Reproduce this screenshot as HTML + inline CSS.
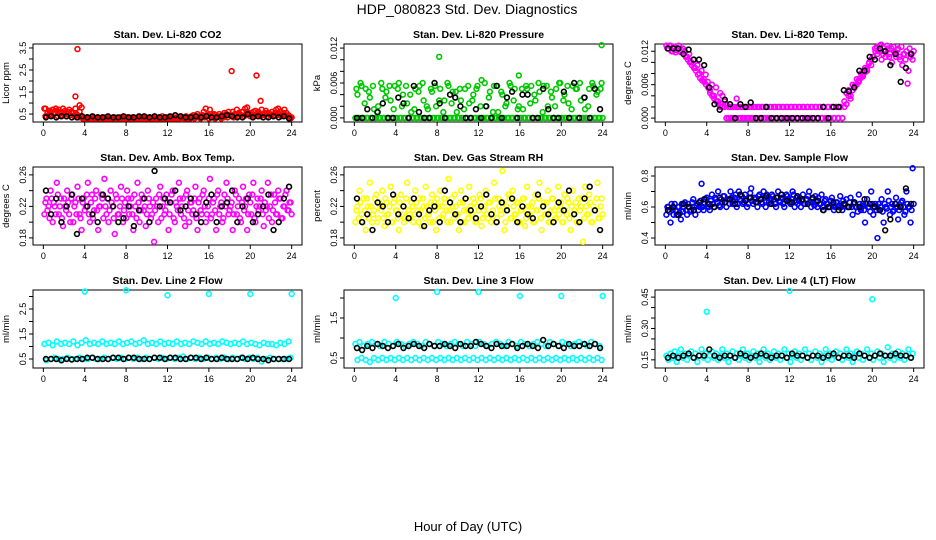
<!DOCTYPE html>
<html><head><meta charset="utf-8">
<style>
body{margin:0;background:#fff;}
svg{display:block;font-family:"Liberation Sans",sans-serif;}
</style></head>
<body>
<svg id="chart" width="936" height="540" viewBox="0 0 936 540">
<text x="467" y="14" text-anchor="middle" font-size="14">HDP_080823  Std. Dev. Diagnostics</text>
<text x="468" y="531" text-anchor="middle" font-size="13">Hour of Day (UTC)</text>
</svg>
<script>
// ---- data (colored = all readings, black = subset) ----
const xTicks = [0,4,8,12,16,20,24];
const co2Red = [.75,.4,.45,.6,.7,.55,.65,.7,.6,.75,.65,.5,.7,.6,.55,.75,.45,.6,.4,.35,.3,.35,.3,.35,.3,.3,.35,.3,.35,.3,.3,.35,.3,.3,.35,.3,.3,.35,.3,.3,.35,.3,.3,.35,.3,.3,.35,.3,.3,.35,.3,.35,.3,.3,.35,.3,.3,.4,.3,.35,.3,.35,.3,.3,.35,.3,.4,.35,.3,.35,.35,.4,.45,.35,.5,.4,.35,.6,.75,.45,.7,.4,.5,.35,.4,.35,.45,.55,.5,.6,.45,.6,.5,.7,.55,.45,.6,.75,.8,.5,.55,.6,.65,.5,.45,.7,.5,.65,.55,.5,.6,.45,.7,.75,.6,.5,.7,.55,.45,.3];
const co2Red2 = [.4,.55,.65,.45,.5,.75,.4,.55,.45,.5,.4,.6,.45,.55,.4,.5,.35,.4,.3,.3,.35,.3,.3,.35,.3,.35,.3,.3,.3,.35,.3,.3,.3,.35,.3,.3,.3,.3,.35,.3,.3,.3,.35,.3,.3,.3,.3,.35,.3,.3,.3,.3,.35,.3,.3,.35,.3,.3,.3,.3,.3,.3,.35,.3,.3,.3,.35,.3,.4,.3,.3,.35,.3,.4,.35,.3,.45,.35,.4,.3,.35,.45,.3,.4,.5,.3,.35,.4,.35,.45,.4,.35,.45,.4,.5,.6,.4,.45,.55,.4,.45,.4,.5,.6,.4,.45,.55,.4,.5,.45,.4,.55,.45,.5,.4,.55,.45,.4,.35,.35];
const co2RedOutT = [0.2,3.1,3.3,3.5,3.7,18.2,20.6,21.0];
const co2RedOutV = [0.75,1.3,3.45,0.9,0.8,2.45,2.25,1.1];
const co2Black = [.35,.4,.35,.4,.4,.35,.35,.4,.35,.4,.35,.35,.4,.35,.35,.4,.35,.35,.4,.4,.35,.4,.35,.35,.4,.45,.4,.35,.35,.4,.35,.4,.35,.35,.4,.45,.4,.35,.35,.5,.35,.4,.35,.35,.4,.35,.4,.3];
const presGreen = [0,.004,0,.0055,0,.005,0,.0035,0,.0015,0,.002,0,.005,0,.0045,0,.003,0,.0055,0,.006,0,.004,0,.0025,0,.001,0,.005,0,.0055,0,.003,0,.0015,0,.0045,0,.002,0,.005,0,.003,0,.0055,0,.0045,0,.001,0,.003,0,.005,0,.0025,0,.004,0,.0055,0,.0065,0,.002,0,.0045,0,.0055,0,.001,0,.004,0,.0025,0,.0055,0,.005,0,.002,0,.0015,0,.005,0,.0055,0,.003,0,.0045,0,.0055,0,.002,0,.0035,0,.005,0,.006,0,.004,0,.0025,0,.0055,0,.005,0,.003,0,.0015,0,.005,0,.0055,0,.0045,0,.006];
const presGreen2 = [.005,0,.006,0,.0025,0,.0045,0,.0055,0,.001,0,.006,0,.0035,0,.0055,0,.0015,0,.005,0,.002,0,.0055,0,.004,0,.0015,0,.0045,0,.006,0,.002,0,.005,0,.0055,0,.003,0,.001,0,.006,0,.0025,0,.0045,0,.005,0,.0015,0,.0055,0,.003,0,.005,0,.002,0,.006,0,.0035,0,.001,0,.0055,0,.0045,0,.002,0,.006,0,.003,0,.0015,0,.005,0,.0055,0,.0025,0,.004,0,.006,0,.001,0,.0055,0,.0045,0,.002,0,.006,0,.003,0,.0055,0,.0015,0,.005,0,.006,0,.0035,0,.002,0,.006,0,.004,0,.005,0];
const presOutT = [8.2,15.9,23.9];
const presOutV = [.0105,.0073,.0125];
const presBlack = [0,0,.0015,0,.001,.0025,0,0,.0035,.0025,0,.0055,.001,0,0,.006,.0025,0,.004,.0035,.002,0,0,.0015,0,.002,0,.0055,0,.0035,.0045,0,.004,.004,0,0,.005,.0015,0,0,.0045,0,.006,0,.0035,0,.005,.0015];
const tempMag = [.013,.0125,.013,.012,.0128,.0122,.013,.0118,.0125,.012,.011,.0115,.01,.0105,.009,.0095,.008,.0085,.007,.0078,.0065,.005,.006,.004,.0055,.003,.0045,.002,.003,0,.002,0,.002,0,.002,0,.002,0,.002,0,.002,0,.002,0,.002,0,.002,0,.002,0,.002,0,.002,0,.002,0,.002,0,.002,0,.002,0,.002,0,.002,0,.002,0,.002,0,.002,0,.002,0,.002,0,.002,0,.002,0,.002,0,.002,0,.002,0,.003,.0045,.005,.0035,.006,.0055,.007,.0065,.008,.0075,.009,.0085,.01,.0095,.011,.012,.0115,.013,.0105,.012,.011,.0125,.0115,.01,.012,.011,.0125,.0105,.0095,.0115,.012,.0085,.011,.0105];
const tempMag2 = [.0125,.013,.012,.0128,.0118,.0125,.012,.0122,.0115,.011,.0105,.01,.0095,.009,.0085,.0078,.0072,.0068,.0065,.006,.0055,.0045,.004,.0035,.003,.0025,.002,.004,.002,.0025,0,.002,0,.002,.0035,.002,0,.002,0,.002,0,.002,0,.002,0,.002,0,.002,0,.002,0,.002,0,.002,0,.002,0,.002,0,.002,0,.002,0,.002,0,.002,0,.002,0,.002,0,.002,0,.002,0,.002,0,.002,0,.002,0,.002,0,.002,0,.002,0,.002,.0025,.004,.004,.005,.0058,.006,.0068,.0072,.0078,.0082,.0088,.0098,.0105,.011,.0125,.0128,.012,.0132,.0115,.012,.013,.011,.0125,.0128,.0118,.0122,.011,.0128,.0115,.0105,.0062,.0125,.0115,.012];
const tempBlack = [.0125,.0125,.0125,.0115,.0123,.0105,.0105,.0095,.0055,.0025,.0015,.0033,.0025,0,.0025,.002,.0028,0,0,.002,0,0,0,0,0,0,0,0,0,0,.002,0,.002,.002,.005,.0048,.0055,.0085,.0085,.011,.0105,.0125,.012,.0095,.0115,.0065,.009,.0115];
const ambMag = [.21,.23,.22,.24,.2,.22,.25,.21,.23,.195,.22,.24,.21,.23,.2,.225,.245,.21,.19,.23,.22,.25,.2,.235,.215,.24,.19,.22,.23,.255,.21,.2,.24,.22,.185,.23,.21,.245,.2,.225,.24,.21,.23,.19,.22,.25,.2,.235,.215,.195,.24,.22,.21,.175,.23,.2,.245,.22,.21,.235,.19,.225,.24,.2,.22,.25,.21,.23,.195,.24,.2,.225,.215,.245,.19,.23,.21,.24,.2,.22,.255,.21,.23,.19,.24,.22,.2,.235,.25,.21,.22,.19,.24,.21,.23,.2,.245,.22,.19,.235,.21,.25,.2,.23,.22,.24,.195,.215,.25,.22,.2,.235,.21,.24,.23,.205,.22,.24,.215,.225];
const ambMag2 = [.225,.215,.205,.23,.225,.21,.235,.22,.205,.23,.215,.225,.2,.235,.22,.21,.23,.205,.225,.215,.235,.21,.225,.205,.23,.215,.22,.235,.205,.22,.23,.215,.225,.205,.235,.21,.22,.23,.215,.205,.23,.22,.21,.235,.205,.225,.215,.23,.22,.21,.23,.205,.225,.215,.22,.235,.205,.23,.215,.225,.21,.235,.205,.225,.215,.23,.22,.205,.235,.215,.225,.21,.23,.205,.225,.215,.235,.22,.21,.23,.205,.225,.215,.235,.21,.225,.205,.22,.23,.215,.225,.21,.235,.22,.205,.225,.215,.23,.21,.225,.235,.205,.22,.215,.23,.21,.225,.22,.205,.235,.215,.225,.21,.23,.205,.22,.235,.215,.225,.21];
const ambBlack = [.24,.21,.23,.2,.22,.235,.185,.23,.22,.21,.2,.235,.23,.22,.2,.205,.22,.195,.215,.23,.2,.265,.22,.23,.225,.24,.215,.22,.23,.21,.2,.225,.235,.2,.22,.225,.24,.2,.22,.23,.2,.21,.22,.235,.19,.2,.23,.245];
const rhYel = [.2,.22,.24,.21,.23,.19,.22,.25,.2,.215,.235,.205,.22,.24,.195,.225,.21,.245,.2,.23,.215,.19,.235,.22,.205,.25,.21,.225,.2,.24,.215,.23,.195,.22,.245,.21,.2,.235,.225,.19,.22,.24,.205,.23,.215,.255,.2,.22,.235,.21,.19,.24,.225,.2,.215,.245,.21,.23,.2,.22,.235,.195,.215,.24,.205,.225,.21,.25,.2,.23,.215,.265,.19,.22,.235,.205,.24,.21,.225,.2,.215,.23,.195,.245,.21,.22,.2,.235,.215,.25,.19,.225,.21,.24,.2,.23,.215,.205,.245,.22,.2,.235,.21,.225,.19,.24,.215,.2,.23,.22,.175,.245,.21,.235,.2,.22,.215,.25,.205,.23];
const rhYel2 = [.215,.205,.225,.2,.215,.23,.205,.22,.21,.23,.2,.225,.215,.205,.23,.21,.22,.2,.225,.215,.205,.225,.21,.2,.23,.215,.205,.22,.21,.225,.2,.215,.23,.205,.22,.21,.225,.2,.215,.23,.205,.22,.21,.225,.2,.215,.23,.205,.22,.21,.225,.2,.215,.23,.205,.22,.21,.225,.2,.215,.23,.205,.22,.21,.225,.2,.215,.23,.205,.22,.21,.225,.2,.215,.23,.205,.22,.21,.225,.2,.215,.23,.205,.22,.21,.225,.2,.215,.23,.205,.22,.21,.225,.2,.215,.23,.205,.22,.21,.225,.2,.215,.23,.205,.22,.21,.225,.2,.215,.23,.205,.22,.21,.225,.2,.215,.23,.205,.22,.21];
const rhBlack = [.23,.2,.21,.19,.225,.22,.2,.235,.21,.22,.205,.23,.21,.195,.215,.22,.2,.24,.225,.21,.2,.23,.215,.205,.22,.235,.21,.2,.225,.215,.23,.2,.22,.21,.205,.235,.22,.21,.2,.225,.215,.24,.21,.2,.23,.245,.215,.19];
const flowBlue = [.55,.6,.5,.58,.62,.55,.6,.52,.57,.63,.55,.6,.58,.65,.55,.62,.6,.75,.58,.65,.62,.58,.68,.6,.65,.7,.6,.63,.67,.6,.65,.7,.62,.66,.6,.7,.64,.62,.68,.6,.66,.72,.62,.65,.6,.68,.63,.7,.6,.66,.62,.68,.65,.6,.7,.63,.66,.6,.68,.65,.62,.7,.6,.66,.64,.6,.68,.62,.65,.7,.6,.63,.67,.6,.62,.68,.58,.65,.62,.6,.66,.58,.63,.6,.67,.58,.62,.65,.6,.66,.55,.63,.6,.68,.58,.62,.5,.65,.6,.7,.55,.62,.4,.58,.65,.5,.6,.7,.55,.62,.58,.66,.52,.6,.64,.55,.7,.6,.5,.85];
const flowBlue2 = [.6,.57,.62,.55,.58,.6,.56,.62,.6,.58,.62,.57,.63,.6,.61,.58,.64,.6,.62,.66,.6,.64,.62,.66,.63,.61,.65,.67,.63,.65,.62,.66,.64,.68,.62,.65,.67,.63,.65,.62,.69,.64,.66,.63,.67,.65,.62,.66,.68,.63,.65,.67,.62,.66,.64,.68,.62,.65,.67,.63,.65,.68,.63,.62,.66,.64,.62,.65,.67,.63,.65,.61,.64,.66,.62,.6,.64,.62,.6,.64,.62,.6,.63,.61,.6,.64,.62,.6,.63,.6,.62,.6,.57,.62,.6,.58,.62,.6,.57,.62,.6,.58,.62,.6,.57,.62,.59,.64,.6,.57,.62,.6,.58,.63,.6,.57,.62,.6,.58,.62];
const flowBlack = [.58,.6,.55,.62,.6,.58,.63,.65,.62,.6,.66,.63,.65,.62,.68,.64,.66,.63,.65,.67,.62,.66,.68,.64,.63,.67,.65,.62,.66,.64,.58,.6,.63,.58,.62,.6,.63,.6,.65,.62,.6,.58,.45,.52,.62,.6,.72,.62];
const l2Cyan = [1.1,.45,1.15,.5,1.05,.55,1.2,.5,1.1,.5,1.15,.55,1.1,.5,1.2,.5,1.05,.55,1.15,.5,1.25,.5,1.1,.55,1.15,.5,1.1,.5,1.2,.55,1.1,.5,1.15,.55,1.1,.5,1.2,.55,1.1,.5,1.15,.55,1.2,.5,1.1,.55,1.15,.5,1.25,.55,1.1,.5,1.15,.55,1.1,.5,1.2,.55,1.1,.5,1.15,.55,1.1,.5,1.2,.55,1.1,.6,1.15,.5,1.1,.55,1.2,.5,1.15,.55,1.1,.5,1.2,.55,1.1,.5,1.15,.55,1.1,.5,1.2,.55,1.15,.5,1.1,.55,1.15,.5,1.1,.55,1.2,.5,1.1,.55,1.15,.5,1.1,.55,1.05,.4,1.15,.5,1.1,.55,1.1,.5,1.05,.5,1.15,.5,1.1,.5,1.2,.55];
const l2OutT = [4,8,12,16,20,24];
const l2OutV = [3.2,3.25,3.05,3.1,3.1,3.1];
const l2Black = [.5,.5,.5,.45,.5,.48,.5,.5,.55,.55,.5,.5,.5,.55,.55,.5,.55,.55,.5,.5,.5,.55,.55,.5,.55,.55,.5,.5,.55,.55,.5,.55,.5,.5,.55,.5,.5,.5,.55,.5,.55,.5,.5,.45,.5,.5,.5,.5];
const l3Cyan = [.85,.45,.9,.5,.8,.45,.85,.4,.9,.5,.85,.45,.8,.5,.9,.45,.85,.5,.8,.45,.9,.5,.85,.45,.8,.5,.85,.45,.9,.5,.85,.45,.8,.5,.9,.45,.85,.5,.8,.45,.9,.5,.85,.45,.8,.5,.85,.45,.9,.5,.85,.45,.8,.5,.9,.45,.85,.5,.8,.45,.9,.5,.85,.45,.8,.5,.85,.45,.9,.5,.85,.45,.8,.5,.9,.45,.85,.5,.8,.45,.9,.5,.85,.45,.8,.5,.85,.45,.9,.5,.85,.45,.8,.5,.9,.45,.85,.5,.8,.45,.9,.5,.85,.45,.8,.5,.85,.45,.9,.5,.85,.45,.8,.5,.9,.45,.85,.5,.8,.45];
const l3OutT = [4,8,12,16,20,24];
const l3OutV = [2.0,2.15,2.15,2.05,2.05,2.05];
const l3Black = [.75,.7,.8,.75,.85,.8,.75,.8,.85,.75,.8,.85,.8,.75,.85,.8,.8,.85,.8,.75,.85,.8,.8,.9,.85,.8,.75,.85,.8,.8,.85,.75,.8,.85,.8,.75,.95,.8,.85,.8,.75,.85,.8,.8,.85,.8,.85,.75];
const l4Cyan = [.17,.15,.18,.16,.19,.14,.17,.2,.16,.18,.15,.17,.19,.16,.18,.14,.17,.2,.16,.18,.15,.17,.19,.16,.18,.15,.17,.2,.16,.18,.14,.17,.19,.16,.18,.15,.17,.2,.16,.18,.15,.17,.19,.16,.18,.14,.17,.2,.16,.18,.15,.17,.19,.16,.18,.15,.17,.2,.16,.18,.14,.17,.19,.16,.18,.15,.17,.2,.16,.18,.15,.17,.19,.16,.18,.14,.17,.2,.16,.18,.15,.17,.19,.16,.18,.15,.17,.2,.16,.18,.14,.17,.19,.16,.18,.15,.17,.2,.16,.18,.15,.17,.19,.16,.18,.14,.17,.21,.16,.18,.15,.17,.19,.16,.18,.15,.17,.2,.16,.18];
const l4OutT = [4,12,20];
const l4OutV = [.38,.48,.44];
const l4Black = [.16,.17,.16,.17,.18,.16,.17,.17,.2,.17,.16,.17,.17,.16,.18,.17,.16,.17,.18,.17,.16,.17,.17,.16,.18,.17,.17,.16,.17,.17,.16,.17,.18,.16,.17,.17,.16,.18,.17,.16,.17,.18,.17,.17,.18,.17,.17,.16];

const panels = [
 {name:'co2',title:'Stan. Dev. Li-820 CO2',ylab:'Licor ppm',col:'#ff0000',c:co2Red,c2:co2Red2,ot:co2RedOutT,ov:co2RedOutV,k:co2Black,ymin:.14,ymax:3.68,ticks:[.5,1,1.5,2,2.5,3,3.5],labs:['0.5','1.5','2.5','3.5']},
 {name:'pressure',title:'Stan. Dev. Li-820 Pressure',ylab:'kPa',col:'#00c800',c:presGreen,c2:presGreen2,ot:presOutT,ov:presOutV,k:presBlack,ymin:-.0007,ymax:.0127,ticks:[0,.002,.004,.006,.008,.01,.012],labs:['0.000','0.006','0.012']},
 {name:'temp',title:'Stan. Dev. Li-820 Temp.',ylab:'degrees C',col:'#ff00ff',c:tempMag,c2:tempMag2,ot:[],ov:[],k:tempBlack,ymin:-.0007,ymax:.0133,ticks:[0,.002,.004,.006,.008,.01,.012],labs:['0.000','0.006','0.012']},
 {name:'amb-box-temp',title:'Stan. Dev. Amb. Box Temp.',ylab:'degrees C',col:'#ff00ff',c:ambMag,c2:ambMag2,ot:[],ov:[],k:ambBlack,ymin:.171,ymax:.27,ticks:[.18,.2,.22,.24,.26],labs:['0.18','0.22','0.26']},
 {name:'gas-stream-rh',title:'Stan. Dev. Gas Stream RH',ylab:'percent',col:'#ffff00',c:rhYel,c2:rhYel2,ot:[],ov:[],k:rhBlack,ymin:.171,ymax:.27,ticks:[.18,.2,.22,.24,.26],labs:['0.18','0.22','0.26']},
 {name:'sample-flow',title:'Stan. Dev. Sample Flow',ylab:'ml/min',col:'#0000ff',c:flowBlue,c2:flowBlue2,ot:[],ov:[],k:flowBlack,ymin:.355,ymax:.858,ticks:[.4,.5,.6,.7,.8],labs:['0.4','0.6','0.8']},
 {name:'line2-flow',title:'Stan. Dev. Line 2 Flow',ylab:'ml/min',col:'#00ffff',c:l2Cyan,c2:[],ot:l2OutT,ov:l2OutV,k:l2Black,ymin:.14,ymax:3.26,ticks:[.5,1,1.5,2,2.5,3],labs:['0.5','1.5','2.5']},
 {name:'line3-flow',title:'Stan. Dev. Line 3 Flow',ylab:'ml/min',col:'#00ffff',c:l3Cyan,c2:[],ot:l3OutT,ov:l3OutV,k:l3Black,ymin:.25,ymax:2.2,ticks:[.5,1,1.5,2],labs:['0.5','1.5']},
 {name:'line4-flow',title:'Stan. Dev. Line 4 (LT) Flow',ylab:'ml/min',col:'#00ffff',c:l4Cyan,c2:[],ot:l4OutT,ov:l4OutV,k:l4Black,ymin:.111,ymax:.484,ticks:[.15,.2,.25,.3,.35,.4,.45],labs:['0.15','0.30','0.45']}
];

const NS='http://www.w3.org/2000/svg';
const svg=document.getElementById('chart');
function mk(tag,attrs,parent){const e=document.createElementNS(NS,tag);for(const k in attrs)e.setAttribute(k,attrs[k]);parent.appendChild(e);return e;}

panels.forEach((p,i)=>{
  const col=i%3,row=Math.floor(i/3);
  const L=33+311*col,R=L+269,T=44+123*row,B=T+78;
  const xs=t=>L+10.35+(t/24)*(R-L-20.7);
  const ys=v=>B-(v-p.ymin)/(p.ymax-p.ymin)*(B-T);
  const g=mk('g',{},svg);
  
  
  const ti=mk('text',{x:(L+R)/2,y:T-6,'text-anchor':'middle','font-size':10.5,'font-weight':'bold'},g);
  ti.textContent=p.title;
  
  
  const box=mk('rect',{x:L,y:T,width:R-L,height:B-T,fill:'none',stroke:'#000','stroke-width':1},g);
  
  
  const xa=mk('g',{},g);
  
  
  mk('line',{x1:xs(0),x2:xs(24),y1:B,y2:B,stroke:'#000'},xa);
  xTicks.forEach(t=>{
    mk('line',{x1:xs(t),x2:xs(t),y1:B,y2:B+4,stroke:'#000'},xa);
    const tl=mk('text',{x:xs(t),y:B+14,'text-anchor':'middle','font-size':9},xa);
    tl.textContent=t;
    
    
  });
  const ya=mk('g',{},g);
  
  
  mk('line',{x1:L,x2:L,y1:ys(p.ticks[0]),y2:ys(p.ticks[p.ticks.length-1]),stroke:'#000'},ya);
  p.ticks.forEach(v=>mk('line',{x1:L-4,x2:L,y1:ys(v),y2:ys(v),stroke:'#000'},ya));
  p.labs.forEach(s=>{
    const yy=ys(parseFloat(s));
    const tl=mk('text',{x:L-7,y:yy,'text-anchor':'middle','font-size':9,transform:`rotate(-90 ${L-7} ${yy})`},ya);
    tl.textContent=s;
    
    
  });
  const yl=mk('text',{x:L-24,y:(T+B)/2,'text-anchor':'middle','font-size':9.5,transform:`rotate(-90 ${L-24} ${(T+B)/2})`},g);
  yl.textContent=p.ylab;
  
  
  const cg=mk('g',{fill:'none',stroke:p.col,'stroke-width':1.6},g);
  
  
  const n=p.c.length;
  p.c.forEach((v,j)=>{
    const c=mk('circle',{cx:xs(j*24/n+0.1),cy:ys(v),r:2.4},cg);
    
    
  });
  const n2=p.c2.length;
  p.c2.forEach((v,j)=>{
    const c=mk('circle',{cx:xs(j*24/n2+0.2),cy:ys(v),r:2.4},cg);
    
    
  });
  p.ot.forEach((t,j)=>{
    const c=mk('circle',{cx:xs(t),cy:ys(p.ov[j]),r:2.4},cg);
    
    
  });
  const kg=mk('g',{fill:'none',stroke:'#000','stroke-width':1.6},g);
  
  
  const m=p.k.length;
  p.k.forEach((v,j)=>{
    const c=mk('circle',{cx:xs(j*24/m+0.25),cy:ys(v),r:2.4},kg);
    
    
  });
});
</script>
</body></html>
